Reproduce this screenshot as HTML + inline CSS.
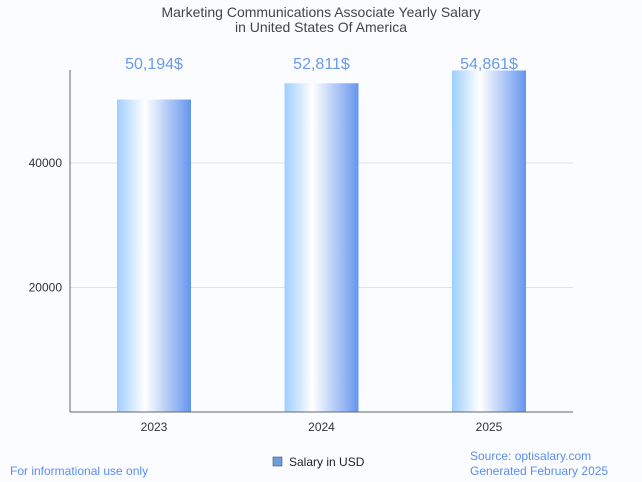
<!DOCTYPE html>
<html><head><meta charset="utf-8"><style>
body{margin:0;background:#fbfcff;font-family:"Liberation Sans",sans-serif;}
svg{display:block}
</style></head><body>
<svg id="c" width="642" height="482">
<defs><linearGradient id="g" x1="0" x2="1" y1="0" y2="0">
<stop offset="0" stop-color="#9fcfff"/><stop offset="0.38" stop-color="#ffffff"/><stop offset="1" stop-color="#6595ee"/>
</linearGradient></defs>
<text x="321" y="17" text-anchor="middle" font-size="14" fill="#444">Marketing Communications Associate Yearly Salary</text>
<text x="321" y="32" text-anchor="middle" font-size="14" fill="#444">in United States Of America</text>
<g id="grid"></g><g id="bars"></g>
<line x1="70" y1="70" x2="70" y2="412" stroke="#666"/>
<line x1="70" y1="412" x2="573" y2="412" stroke="#666"/>
<rect x="273" y="457" width="9" height="9" fill="#6a9ee0" stroke="#335" stroke-width="0.5"/>
<text x="289" y="466" font-size="12" fill="#222">Salary in USD</text>
<text x="10" y="475" font-size="12" fill="#5b8def">For informational use only</text>
<text x="470" y="460" font-size="12" fill="#5b8def">Source: optisalary.com</text>
<text x="470" y="475" font-size="12" fill="#5b8def">Generated February 2025</text>
</svg>
<script>
const categories=["2023","2024","2025"];
const values=[50194,52811,54861];
const labels=["50,194$","52,811$","54,861$"];
const ticks=[20000,40000];
const NS="http://www.w3.org/2000/svg";
const y=v=>412-v*249/40000;
const xc=i=>154+i*167.5;
function mk(t,a,p){const e=document.createElementNS(NS,t);for(const k in a)e.setAttribute(k,a[k]);p.appendChild(e);return e;}
const grid=document.getElementById('grid'),bars=document.getElementById('bars');
ticks.forEach(t=>{
 const l=mk('line',{x1:70,x2:573,y1:y(t),y2:y(t),stroke:'#e2e2e2'},grid);
 
 
 const tx=mk('text',{x:62,y:y(t)+4,'text-anchor':'end','font-size':12,fill:'#333'},grid);tx.textContent=t;
 
 
});
categories.forEach((c,i)=>{
 const r=mk('rect',{x:xc(i)-37,y:y(values[i]),width:74,height:412-y(values[i]),fill:'url(#g)'},bars);
 
 
 const v=mk('text',{x:xc(i),y:69,'text-anchor':'middle','font-size':16,fill:'#6a9ae8'},bars);v.textContent=labels[i];
 
 
 const x=mk('text',{x:xc(i),y:431,'text-anchor':'middle','font-size':12,fill:'#333'},bars);x.textContent=c;
 
 
});
</script>
</body></html>
